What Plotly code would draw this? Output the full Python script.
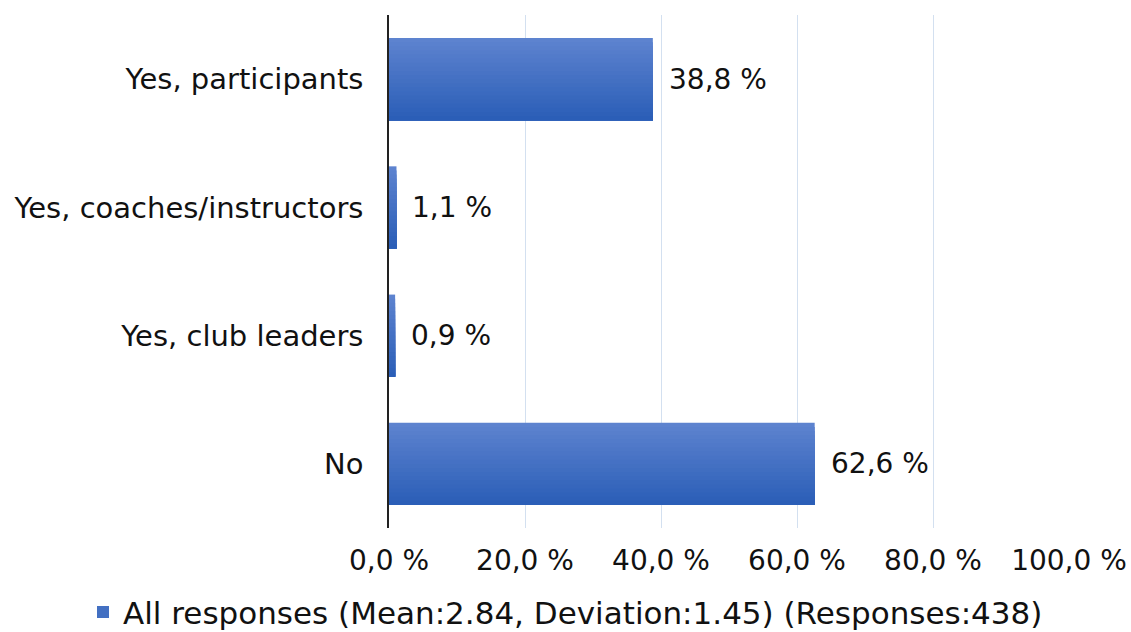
import plotly.graph_objects as go

CATEGORIES = ["Yes, participants", "Yes, coaches/instructors", "Yes, club leaders", "No"]
VALUES = [38.8, 1.1, 0.9, 62.6]
LABELS = ["38,8 %", "1,1 %", "0,9 %", "62,6 %"]
TICK_VALS = [0, 20, 40, 60, 80, 100]
TICK_TEXT = ["0,0 %", "20,0 %", "40,0 %", "60,0 %", "80,0 %", "100,0 %"]
SERIES_NAME = "All responses (Mean:2.84, Deviation:1.45) (Responses:438)"

FONT = "DejaVu Sans"
TEXT = "#111111"
GRID = "#d3e0f0"
TOP_RGB = (93, 131, 207)
BOTTOM_RGB = (43, 94, 183)

fig = go.Figure()

# fake a vertical gradient: each strip runs to the bar bottom, next one covers it
n_strips = 20
bar_width = 0.64
strip = bar_width / n_strips
for i in range(n_strips):
    t = i / (n_strips - 1)
    rgb = tuple(round(a + (b - a) * t) for a, b in zip(TOP_RGB, BOTTOM_RGB))
    fig.add_trace(
        go.Bar(
            y=CATEGORIES,
            x=VALUES,
            orientation="h",
            width=bar_width - i * strip,
            offset=-bar_width / 2 + i * strip,
            marker=dict(color="rgb(%d,%d,%d)" % rgb, line=dict(width=0)),
            name=SERIES_NAME,
            showlegend=(i == n_strips // 2),
            hoverinfo="skip" if i != n_strips // 2 else None,
        )
    )

for cat, val, lab in zip(CATEGORIES, VALUES, LABELS):
    fig.add_annotation(
        x=val,
        y=cat,
        text=lab,
        showarrow=False,
        xanchor="left",
        xshift=14,
        font=dict(family=FONT, size=28, color=TEXT),
    )

fig.update_layout(
    width=1131,
    height=632,
    margin=dict(l=389, r=62, t=15, b=104),
    paper_bgcolor="white",
    plot_bgcolor="white",
    barmode="overlay",
    font=dict(family=FONT, size=28, color=TEXT),
    xaxis=dict(
        range=[0, 100],
        tickvals=TICK_VALS,
        ticktext=TICK_TEXT,
        showgrid=True,
        gridcolor=GRID,
        gridwidth=1,
        zeroline=False,
        showline=False,
        ticks="",
        ticklabelstandoff=13,
        automargin=False,
        tickfont=dict(family=FONT, size=28, color=TEXT),
    ),
    yaxis=dict(
        categoryorder="array",
        categoryarray=CATEGORIES,
        autorange="reversed",
        showgrid=False,
        showline=True,
        linecolor="#222222",
        linewidth=1.5,
        ticks="",
        ticklabelstandoff=18,
        automargin=False,
        tickfont=dict(family=FONT, size=29, color=TEXT),
    ),
    legend=dict(
        orientation="h",
        xref="container",
        yref="container",
        x=0.5,
        xanchor="center",
        y=0.031,
        yanchor="middle",
        font=dict(family=FONT, size=31, color=TEXT),
        itemwidth=30,
    ),
)

# page body has a default 8px margin, drop it so the figure sits at 0,0
fig.write_html(
    "out.html",
    config={"displayModeBar": False},
    post_script="document.body.style.margin='0px';",
)
